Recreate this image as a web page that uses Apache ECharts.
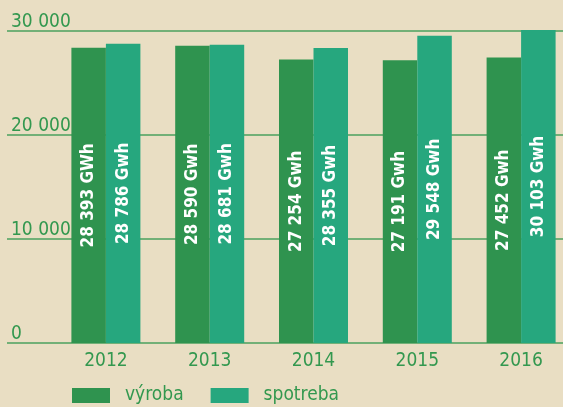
<!DOCTYPE html>
<html>
<head>
<meta charset="utf-8">
<script src="https://cdn.jsdelivr.net/npm/echarts@6/dist/echarts.min.js"></script>
<style>
  html, body { margin: 0; padding: 0; background: #e9dec3; }
  #chart { width: 563px; height: 407px; }
</style>
</head>
<body>
<div id="chart"></div>
<script>
  // dáta z grafu
  var years = ['2012', '2013', '2014', '2015', '2016'];
  var vyroba = [28393, 28590, 27254, 27191, 27452];
  var spotreba = [28786, 28681, 28355, 29548, 30103];
  var vyrobaLabels = ['28 393 GWh', '28 590 Gwh', '27 254 Gwh', '27 191 Gwh', '27 452 Gwh'];
  var spotrebaLabels = ['28 786 Gwh', '28 681 Gwh', '28 355 Gwh', '29 548 Gwh', '30 103 Gwh'];

  var font = '"Liberation Sans Narrow", "DejaVu Sans Condensed", sans-serif';
  var green = '#33984f';

  var barLabel = function (list) {
    return {
      show: true,
      position: 'inside',
      rotate: 90,
      color: '#fff',
      fontWeight: 'bold',
      fontSize: 17,
      fontFamily: font,
      formatter: function (p) { return list[p.dataIndex]; }
    };
  };

  var chart = echarts.init(document.getElementById('chart'));
  chart.setOption({
    backgroundColor: '#e9dec3',
    animation: false,
    textStyle: { fontFamily: font },
    legend: {
      left: 72,
      top: 386,
      padding: 0,
      icon: 'rect',
      itemWidth: 38,
      itemHeight: 15,
      itemGap: 27,
      textStyle: { fontSize: 19, color: green, fontFamily: font, padding: [0, 0, 0, 10] },
      data: ['výroba', 'spotreba']
    },
    grid: [
      // mriežka s osou
      { left: 7, right: 0, top: 31, bottom: 64, outerBoundsMode: 'none' },
      // stĺpce
      { left: 54, width: 519, top: 31, bottom: 64, outerBoundsMode: 'none' }
    ],
    xAxis: [
      { gridIndex: 0, type: 'category', data: years, show: false },
      {
        gridIndex: 1,
        type: 'category',
        data: years,
        axisLine: { show: false },
        axisTick: { show: false },
        axisLabel: { fontSize: 19, color: green, fontFamily: font, margin: 9 }
      }
    ],
    yAxis: [
      {
        gridIndex: 0,
        type: 'value',
        min: 0,
        max: 30000,
        interval: 10000,
        axisLine: { show: false },
        axisTick: { show: false },
        splitLine: { lineStyle: { color: '#72b077', width: 2 } },
        axisLabel: {
          inside: true,
          margin: 4,
          verticalAlign: 'bottom',
          lineHeight: 18,
          fontSize: 19,
          color: green,
          fontFamily: font,
          formatter: function (v) {
            return v === 0 ? '0' : String(v).replace(/(\d)(?=(\d{3})+$)/g, '$1 ');
          }
        }
      },
      { gridIndex: 1, type: 'value', min: 0, max: 30000, show: false }
    ],
    series: [
      {
        name: 'výroba',
        type: 'bar',
        xAxisIndex: 1,
        yAxisIndex: 1,
        barWidth: 34.5,
        barGap: '0%',
        clip: false,
        itemStyle: { color: '#2f934f' },
        label: barLabel(vyrobaLabels),
        data: vyroba
      },
      {
        name: 'spotreba',
        type: 'bar',
        xAxisIndex: 1,
        yAxisIndex: 1,
        barWidth: 34.5,
        barGap: '0%',
        clip: false,
        itemStyle: { color: '#26a77e' },
        label: barLabel(spotrebaLabels),
        data: spotreba
      }
    ]
  });
</script>
</body>
</html>
